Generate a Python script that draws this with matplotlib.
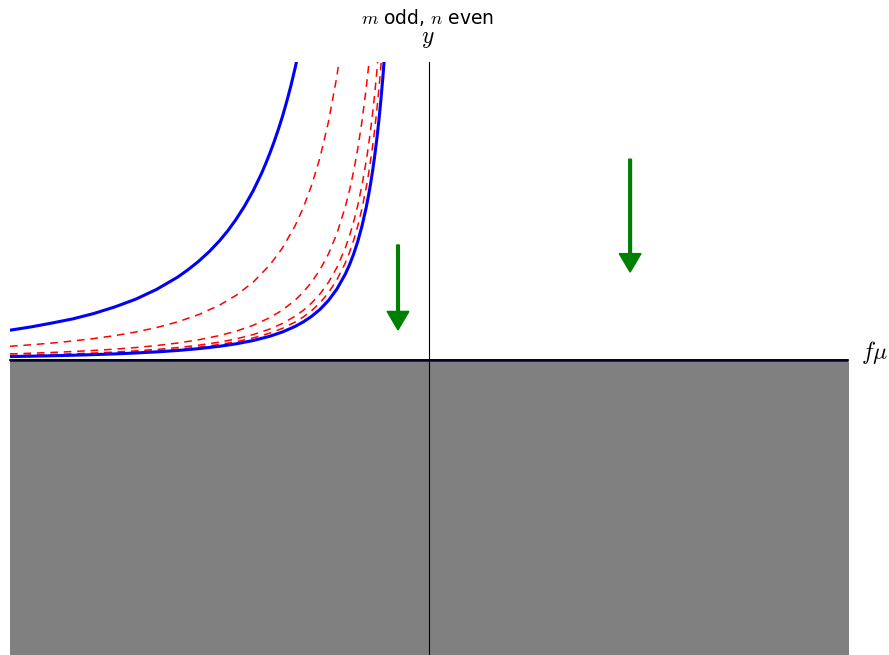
import numpy as np
import matplotlib.pyplot as plt

plt.rcParams['mathtext.fontset'] = 'cm'

# outer blue boundary curve
x_outer = [-1.0, -0.95, -0.9, -0.85, -0.8, -0.75, -0.7, -0.65, -0.6, -0.575,
           -0.55, -0.525, -0.5, -0.48, -0.46, -0.44, -0.42, -0.4, -0.39, -0.38,
           -0.37, -0.36, -0.35, -0.34, -0.33, -0.32, -0.31, -0.30]
y_outer = [0.100, 0.111, 0.124, 0.138, 0.156, 0.178, 0.204, 0.237, 0.278, 0.303,
           0.331, 0.363, 0.400, 0.434, 0.473, 0.517, 0.567, 0.625, 0.658, 0.693,
           0.731, 0.772, 0.816, 0.865, 0.918, 0.977, 1.041, 1.111]

# shared x grid for the inner blue curve and the red dashed ones
x_inner = [-1.0, -0.95, -0.9, -0.85, -0.8, -0.75, -0.7, -0.65, -0.6, -0.55, -0.5,
           -0.46, -0.42, -0.38, -0.35, -0.32, -0.3, -0.28, -0.26, -0.24, -0.22,
           -0.2, -0.19, -0.18, -0.17, -0.16, -0.15, -0.145, -0.14, -0.135, -0.13,
           -0.125, -0.12, -0.115, -0.11, -0.105, -0.10]
y_inner = [0.0115, 0.0127, 0.0142, 0.0159, 0.0180, 0.0204, 0.0235, 0.0272, 0.0319,
           0.0380, 0.0460, 0.0543, 0.0652, 0.0796, 0.0939, 0.1123, 0.1278, 0.1467,
           0.1701, 0.1996, 0.2376, 0.2875, 0.3186, 0.3549, 0.3979, 0.4492, 0.5111,
           0.5469, 0.5867, 0.6310, 0.6805, 0.7360, 0.7986, 0.8695, 0.9504, 1.0431,
           1.150]

y_red = [
    [0.046, 0.0510, 0.0568, 0.0637, 0.0719, 0.0818, 0.0939, 0.1089, 0.1278, 0.1521,
     0.184, 0.2174, 0.2608, 0.3186, 0.3755, 0.4492, 0.5111, 0.5870, 0.6803, 0.7986,
     0.9504, 1.150, 1.274, 1.420, 1.592, 1.797, 2.044, 2.188, 2.347, 2.524, 2.722,
     2.944, 3.194, 3.478, 3.801, 4.172, 4.600],
    [0.0205, 0.0227, 0.0253, 0.0284, 0.0320, 0.0364, 0.0418, 0.0485, 0.0569, 0.0678,
     0.0820, 0.0969, 0.1162, 0.1420, 0.1673, 0.2002, 0.2278, 0.2616, 0.3032, 0.3559,
     0.4235, 0.5125, 0.5679, 0.6326, 0.7093, 0.8007, 0.9110, 0.9750, 1.0459, 1.1248,
     1.2130, 1.312, 1.4235, 1.550, 1.694, 1.859, 2.050],
    [0.0150, 0.0166, 0.0185, 0.0208, 0.0234, 0.0267, 0.0306, 0.0355, 0.0417, 0.0496,
     0.0600, 0.0709, 0.0850, 0.1039, 0.1224, 0.1465, 0.1667, 0.1914, 0.2219, 0.2604,
     0.3099, 0.3750, 0.4155, 0.4629, 0.5190, 0.5859, 0.6666, 0.7134, 0.7653, 0.8231,
     0.8876, 0.9600, 1.0416, 1.1342, 1.2396, 1.3605, 1.500],
    [0.0130, 0.0144, 0.0161, 0.0180, 0.0203, 0.0231, 0.0265, 0.0308, 0.0361, 0.0430,
     0.0520, 0.0614, 0.0737, 0.0900, 0.1061, 0.1270, 0.1444, 0.1659, 0.1923, 0.2257,
     0.2686, 0.3250, 0.3601, 0.4012, 0.4498, 0.5078, 0.5777, 0.6183, 0.6633, 0.7133,
     0.7692, 0.8320, 0.9027, 0.9829, 1.0743, 1.1791, 1.300],
]

# green arrows: (x, y_start, y_end)
arrows = [(-0.074, 0.386, 0.101), (0.480, 0.674, 0.295)]

fig = plt.figure(figsize=(8.89, 6.55), dpi=100)
ax = fig.add_axes([10 / 889, 0, 838 / 889, 593 / 655])
ax.set_xlim(-1, 1)
ax.set_ylim(-0.99, 1)

ax.fill_between([-1, 1], [-1, -1], [0, 0], color='gray', zorder=1)
ax.plot([-1, 1], [0, 0], color='b', lw=2, zorder=2)

for yr in y_red:
    ax.plot(x_inner, yr, color='r', lw=1.1, dashes=(5, 3.8), zorder=3)
ax.plot(x_outer, y_outer, color='b', lw=2.2, zorder=4)
ax.plot(x_inner, y_inner, color='b', lw=2.2, zorder=4)

for xa, y0, y1 in arrows:
    ax.arrow(xa, y0, 0, y1 - y0, width=0.0065, head_width=0.052, head_length=0.062,
             length_includes_head=True, color='green', zorder=5)

ax.spines['left'].set_position(('data', 0))
ax.spines['bottom'].set_position(('data', 0))
ax.spines['right'].set_visible(False)
ax.spines['top'].set_visible(False)
ax.spines['bottom'].set_linewidth(1.2)
for s in ax.spines.values():
    s.set_zorder(6)
ax.set_xticks([])
ax.set_yticks([])

fig.text(428 / 889, 1 - 17 / 655, r'$m$ odd, $n$ even', ha='center', va='center', fontsize=13.5)
fig.text(428 / 889, 1 - 38 / 655, r'$y$', ha='center', va='center', fontsize=17)
fig.text(875 / 889, 1 - 352 / 655, r'$f\mu$', ha='center', va='center', fontsize=17)

fig.savefig('out.png', dpi=100)
